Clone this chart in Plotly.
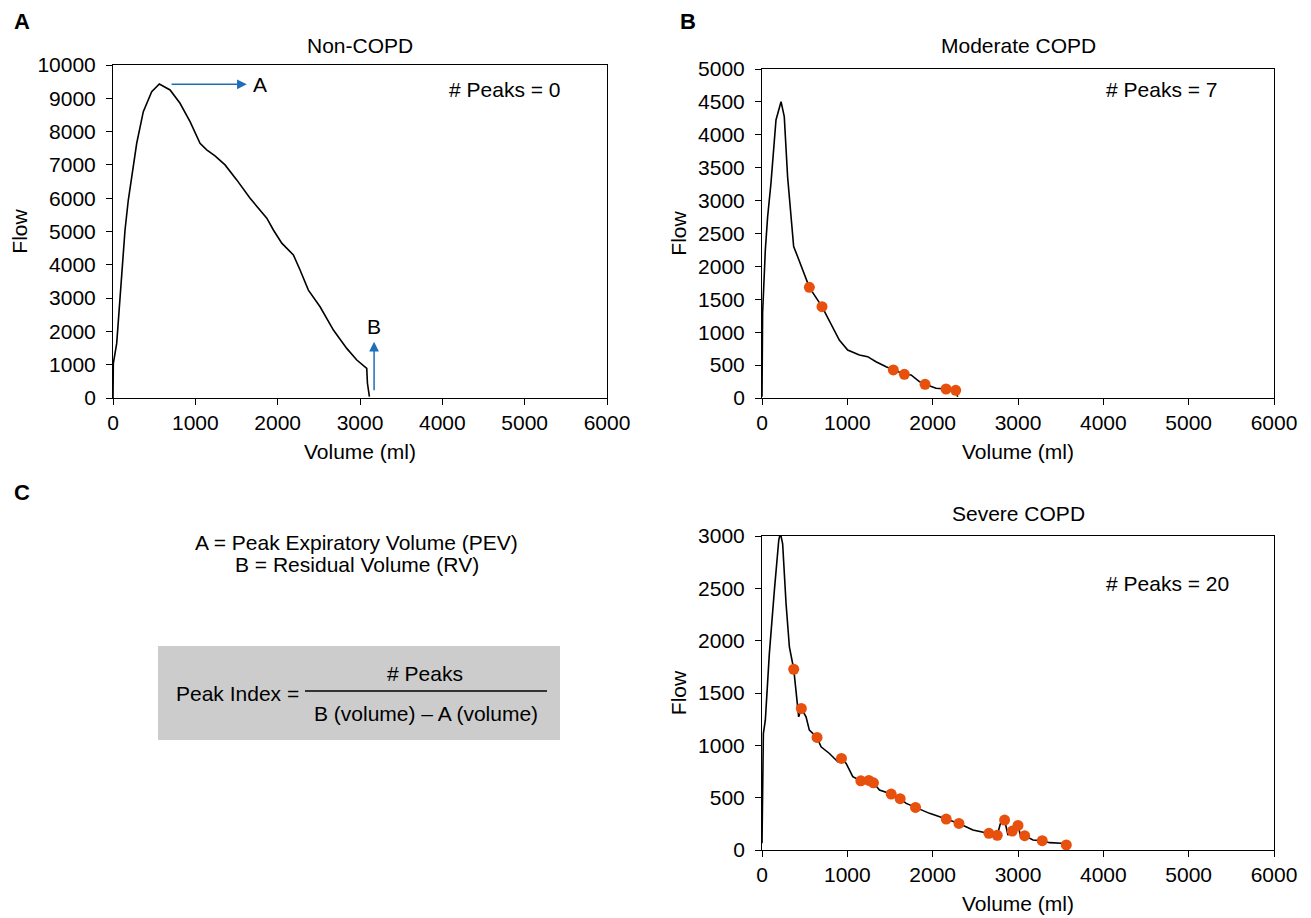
import plotly.graph_objects as go

# --- Data ---
# Non-COPD flow-volume curve
non_vol = [0, 4, 45, 146, 186, 288, 368, 470, 563, 693, 814, 936, 1057, 1138, 1239, 1361,
           1503, 1665, 1868, 1948, 2050, 2191, 2272, 2373, 2515, 2677, 2839, 2961, 3082, 3090, 3114]
non_flow = [0, 1040, 1640, 5045, 5945, 7650, 8600, 9200, 9430, 9250, 8850, 8300, 7650, 7450, 7270, 7000,
            6550, 6000, 5400, 5045, 4650, 4295, 3845, 3240, 2740, 2040, 1490, 1140, 890, 450, 40]

# Moderate COPD curve and detected peaks
mod_vol = [0, 7, 39, 66, 105, 164, 223, 261, 300, 340, 371, 418, 476, 555, 703, 809, 906, 1004,
           1141, 1238, 1336, 1454, 1539, 1668, 1747, 1844, 1911, 2040, 2157, 2270, 2293]
mod_flow = [20, 1287, 2250, 2755, 3263, 4225, 4503, 4275, 3363, 2705, 2300, 2147, 1945, 1682, 1388, 1110,
            881, 730, 653, 628, 552, 476, 426, 360, 350, 248, 208, 147, 137, 117, 20]
mod_peak_vol = [555, 703, 1539, 1668, 1911, 2157, 2270]
mod_peak_flow = [1682, 1388, 426, 360, 208, 137, 117]

# Severe COPD curve and detected peaks
sev_vol = [0, 16, 39, 86, 145, 196, 215, 242, 282, 321, 372, 399, 430, 461, 516, 555, 645, 692, 790,
           888, 931, 986, 1025, 1064, 1158, 1252, 1306, 1377, 1514, 1619, 1690, 1799, 1963, 2159, 2308,
           2472, 2589, 2659, 2757, 2792, 2843, 2882, 2933, 3000, 3027, 3078, 3176, 3284, 3370, 3507,
           3566, 3585]
sev_flow = [64, 1113, 1240, 1876, 2480, 2957, 3030, 2926, 2353, 1940, 1727, 1526, 1272, 1352, 1272, 1145,
            1075, 986, 922, 843, 875, 827, 763, 700, 661, 665, 642, 572, 534, 490, 445, 407, 350, 296,
            254, 191, 169, 159, 140, 248, 286, 143, 181, 235, 143, 137, 95, 89, 70, 64, 48, 16]
sev_peak_vol = [372, 461, 645, 931, 1158, 1252, 1306, 1514, 1619, 1799, 2159, 2308, 2659, 2757,
                2843, 2933, 3000, 3078, 3284, 3566]
sev_peak_flow = [1727, 1352, 1075, 875, 661, 665, 642, 534, 490, 407, 296, 254, 159, 140,
                 286, 181, 235, 137, 89, 48]

W, H = 1311, 918
OFF = 8  # page body margin shifts the figure
FONT = "Liberation Sans, Arial, Helvetica, sans-serif"
FS = 21
ORANGE = "#e8500e"
BLUE = "#1f6eb8"


def px(x):
    return (x - OFF) / W


def py(y):
    return 1 - (y - OFF) / H


fig = go.Figure()

line_style = dict(color="black", width=1.6)
fig.add_trace(go.Scatter(x=non_vol, y=non_flow, mode="lines", line=line_style,
                         xaxis="x", yaxis="y", showlegend=False))
fig.add_trace(go.Scatter(x=mod_vol, y=mod_flow, mode="lines", line=line_style,
                         xaxis="x2", yaxis="y2", showlegend=False))
fig.add_trace(go.Scatter(x=mod_peak_vol, y=mod_peak_flow, mode="markers",
                         marker=dict(color=ORANGE, size=11), xaxis="x2", yaxis="y2", showlegend=False))
fig.add_trace(go.Scatter(x=sev_vol, y=sev_flow, mode="lines", line=line_style,
                         xaxis="x3", yaxis="y3", showlegend=False))
fig.add_trace(go.Scatter(x=sev_peak_vol, y=sev_peak_flow, mode="markers",
                         marker=dict(color=ORANGE, size=11), xaxis="x3", yaxis="y3", showlegend=False))

axis_common = dict(showline=True, mirror=True, linecolor="black", linewidth=1.3,
                   ticks="outside", ticklen=6, tickcolor="black", tickwidth=1.2,
                   showgrid=False, zeroline=False, automargin=False, tickformat="d",
                   tickfont=dict(size=FS, color="black", family=FONT))
title_font = dict(size=FS, color="black", family=FONT)

xa = dict(axis_common, range=[0, 6000], dtick=1000,
          title=dict(text="Volume (ml)", font=title_font, standoff=10))
ya = dict(axis_common, ticksuffix=" ")

fig.update_layout(
    width=W, height=H,
    margin=dict(l=0, r=0, t=0, b=0),
    paper_bgcolor="white", plot_bgcolor="white",
    font=dict(family=FONT, size=FS, color="black"),
    xaxis=dict(xa, domain=[px(113), px(607)], anchor="y"),
    yaxis=dict(ya, domain=[py(398), py(65)], anchor="x", range=[0, 10000], dtick=1000,
               title=dict(text="Flow", font=title_font, standoff=8)),
    xaxis2=dict(xa, domain=[px(762), px(1274)], anchor="y2"),
    yaxis2=dict(ya, domain=[py(398), py(69)], anchor="x2", range=[0, 5000], dtick=500,
                title=dict(text="Flow", font=title_font, standoff=5)),
    xaxis3=dict(xa, domain=[px(762), px(1274)], anchor="y3"),
    yaxis3=dict(ya, domain=[py(850), py(536)], anchor="x3", range=[0, 3000], dtick=500,
                title=dict(text="Flow", font=title_font, standoff=5)),
)

# Formula box in panel C
fig.add_shape(type="rect", xref="paper", yref="paper",
              x0=px(158), x1=px(560), y0=py(740), y1=py(646),
              fillcolor="#cccccc", line=dict(width=0), layer="below")
fig.add_shape(type="line", xref="paper", yref="paper",
              x0=px(305), x1=px(547), y0=py(691), y1=py(691),
              line=dict(color="black", width=1.3))

annotations = []


def paper_text(text, x, y, size=FS, bold=False, xanchor="center"):
    t = f"<b>{text}</b>" if bold else text
    annotations.append(dict(text=t, x=px(x), y=py(y), xref="paper", yref="paper",
                            showarrow=False, xanchor=xanchor, yanchor="middle",
                            font=dict(size=size, color="black", family=FONT)))


# panel letters
paper_text("A", 22, 22, size=22, bold=True)
paper_text("B", 688, 22, size=22, bold=True)
paper_text("C", 22, 492, size=22, bold=True)

# panel titles
paper_text("Non-COPD", 360, 45)
paper_text("Moderate COPD", 1018, 45)
paper_text("Severe COPD", 1018, 514)

# peak counts
paper_text("# Peaks = 0", 505, 90)
paper_text("# Peaks = 7", 1162, 90)
paper_text("# Peaks = 20", 1167, 583)

# definitions
paper_text("A = Peak Expiratory Volume (PEV)", 357, 542)
paper_text("B = Residual Volume (RV)", 357, 564)
paper_text("Peak Index =", 237, 693)
paper_text("# Peaks", 425, 673)
paper_text("B (volume) \u2013 A (volume)", 426, 713)

# A and B arrows in the Non-COPD panel
annotations.append(dict(x=1625, y=9420, ax=693, ay=9420, xref="x", yref="y", axref="x", ayref="y",
                        showarrow=True, arrowhead=2, arrowsize=1.3, arrowwidth=1.5, arrowcolor=BLUE,
                        text=""))
annotations.append(dict(x=1790, y=9420, xref="x", yref="y", text="A", showarrow=False,
                        font=dict(size=FS, color="black", family=FONT)))
annotations.append(dict(x=3171, y=1690, ax=3171, ay=190, xref="x", yref="y", axref="x", ayref="y",
                        showarrow=True, arrowhead=2, arrowsize=1.3, arrowwidth=1.5, arrowcolor=BLUE,
                        text=""))
annotations.append(dict(x=3171, y=2150, xref="x", yref="y", text="B", showarrow=False,
                        font=dict(size=FS, color="black", family=FONT)))

fig.update_layout(annotations=annotations)

fig.write_html("out.html")
